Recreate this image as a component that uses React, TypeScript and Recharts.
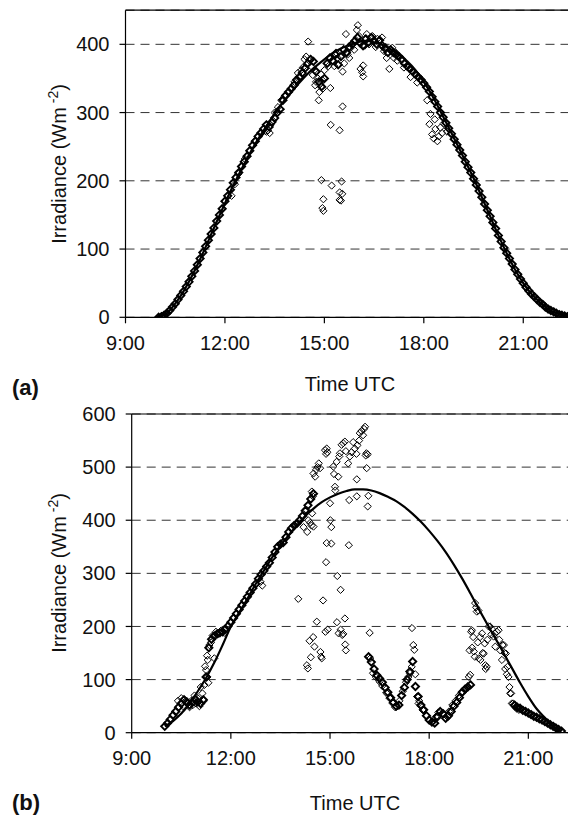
import React from "react";
import { ComposedChart, Line, Scatter, XAxis, YAxis, CartesianGrid, ReferenceLine } from "recharts";

const FONT = '"Liberation Sans", Arial, Helvetica, sans-serif';

// ---- axes ----
const xTicks = [9, 12, 15, 18, 21];
const yTicksA = [0, 100, 200, 300, 400];
const yTicksB = [0, 100, 200, 300, 400, 500, 600];

// ---- sampling of the read-off series ----
const MODEL_START = 10; // 10:00 UTC
const MODEL_STEP_MIN = 15;
const OBS_STEP_MIN = 5;

// (a) clear-sky model curve, 10:00 .. 22:30 every 15 min
const modelA = [
  0, 6, 20, 38, 60, 85, 112, 140, 167, 193, 217, 240, 261, 280, 298, 315, 330, 344, 357, 368,
  378, 387, 394, 399, 403, 405, 403, 399, 393, 385, 375, 362, 345, 325, 302, 278, 254, 229, 204, 176,
  148, 120, 94, 70, 50, 34, 22, 12, 6, 2, 0,
];

// (a) measured, 10:00 .. 22:20 every 5 min
const obsAMain = [
  0, 1, 3, 6, 10, 15, 20, 26, 32, 38, 45, 52,
  60, 68, 77, 86, 95, 104, 113, 122, 131, 141, 150, 159,
  170, 178, 187, 197, 205, 212, 221, 228, 236, 244, 252, 258,
  265, 270, 276, 282, 279, 286, 292, 300, 305, 318, 325, 330,
  335, 340, 348, 352, 358, 365, 372, 378, 375, 360, 345, 338,
  350, 372, 380, 376, 385, 370, 382, 392, 388, 396, 400, 405,
  410, 402, 398, 408, 403, 410, 405, 400, 406, 398, 394, 388,
  392, 388, 385, 382, 378, 372, 368, 364, 360, 356, 352, 348,
  343, 337, 331, 323, 316, 309, 300, 293, 285, 277, 269, 261,
  253, 245, 237, 228, 220, 212, 203, 194, 185, 176, 166, 157,
  148, 139, 130, 120, 111, 102, 94, 86, 78, 70, 63, 56,
  50, 44, 39, 34, 30, 26, 22, 19, 15, 12, 10, 8,
  6, 4, 3, 2, 1,
];

// (a) measured, extra scattered readings [hour, W m-2]
const obsAScatter: [number, number][] = [
  [14.51, 404], [14.45, 382], [14.55, 376], [14.6, 368], [14.65, 355], [14.7, 362], [14.72, 340], [14.75, 345],
  [14.8, 350], [14.83, 318], [14.85, 330], [14.87, 342], [14.9, 356], [14.93, 348], [14.95, 335], [15.0, 362],
  [14.91, 201], [14.97, 173], [14.94, 160], [14.97, 156], [15.18, 336], [15.19, 282], [15.22, 193], [15.12, 368],
  [15.25, 375], [15.3, 368], [15.35, 388], [15.4, 380], [15.46, 274], [15.46, 183], [15.46, 172], [15.5, 171],
  [15.52, 199], [15.54, 181], [15.55, 309], [15.55, 360], [15.6, 372], [15.65, 415], [15.7, 385], [15.75, 380],
  [15.8, 395], [15.85, 400], [15.9, 392], [15.98, 421], [16.01, 428], [16.05, 412], [16.09, 364], [16.14, 359],
  [16.17, 353], [16.17, 369], [16.22, 398], [16.28, 415], [16.35, 400], [16.4, 408], [16.45, 412], [16.55, 396],
  [16.6, 408], [16.65, 405], [16.74, 410], [16.8, 390], [16.85, 396], [16.88, 380], [16.96, 364], [17.05, 395],
  [17.1, 380], [17.15, 388], [17.2, 376], [17.4, 366], [17.6, 352], [17.8, 344], [18.1, 318], [18.17, 283],
  [18.2, 298], [18.25, 268], [18.3, 262], [18.33, 290], [18.35, 276], [18.41, 258], [18.45, 265], [18.5, 278],
  [18.55, 270], [18.6, 284], [18.7, 272], [13.25, 272], [13.3, 274], [13.35, 270], [13.38, 282], [13.45, 288],
  [13.5, 300], [12.2, 178], [12.3, 195], [12.4, 210], [12.6, 232], [12.9, 258], [13.6, 308], [13.7, 318],
  [13.8, 324], [14.1, 345], [14.2, 358], [14.3, 362], [14.35, 366], [14.4, 378],
];

// (b) clear-sky model curve, 10:00 .. 22:00 every 15 min
const modelB = [
  12, 22, 36, 55, 78, 103, 132, 165, 200, 226, 252, 280, 305, 330, 352, 372, 390, 408,
  422, 434, 443, 450, 455, 458, 458, 456, 451, 444, 436, 425, 412, 397, 380, 361, 340, 316,
  290, 262, 233, 205, 178, 150, 122, 94, 68, 45, 28, 12, 3,
];

// (b) measured, morning run 10:00 .. 14:30 every 5 min
const obsB1Start = 10;
const obsB1 = [
  12, 18, 25, 33, 40, 48, 55, 62, 58, 52, 57, 63,
  58, 55, 62, 105, 160, 176, 182, 186, 188, 190, 195, 201,
  208, 216, 224, 232, 240, 248, 256, 264, 272, 280, 290, 298,
  305, 313, 320, 330, 340, 350, 355, 358, 368, 378, 385, 390,
  394, 400, 408, 418, 428, 440, 450,
];
// (b) measured, afternoon run 16:10 .. 19:15 every 5 min
const obsB2Start = 16 + 10 / 60;
const obsB2 = [
  143, 133, 120, 108, 102, 95, 85, 76, 66, 57,
  50, 52, 70, 85, 100, 115, 134, 87, 68, 52, 43, 32,
  24, 20, 18, 30, 40, 36, 27, 32, 40, 50, 57, 66,
  76, 82, 86, 90,
];
// (b) measured, evening run 20:35 .. 22:00 every 5 min
const obsB3Start = 20 + 35 / 60;
const obsB3 = [52, 48, 46, 42, 40, 37, 34, 31, 29, 26, 24, 21, 18, 15, 12, 9, 6, 3];

// (b) measured, extra scattered readings [hour, W m-2]
const obsBScatter: [number, number][] = [
  [10.4, 60], [10.5, 65], [10.55, 50], [10.6, 62], [10.7, 55], [10.75, 48], [10.8, 60], [10.85, 52],
  [10.9, 70], [10.95, 55], [11.0, 65], [11.05, 50], [11.09, 86], [11.14, 74], [11.18, 60], [11.2, 90],
  [11.22, 125], [11.25, 118], [11.28, 145], [11.29, 105], [11.3, 137], [11.32, 94], [11.35, 165], [11.4, 170],
  [11.45, 183], [11.5, 140], [11.55, 190], [11.6, 185], [11.7, 192], [11.8, 188], [12.9, 284], [12.95, 277],
  [14.04, 252], [14.2, 387], [14.3, 419], [14.31, 378], [14.34, 400], [14.4, 395], [14.44, 390], [14.45, 454],
  [14.46, 413], [14.48, 445], [14.5, 388], [14.5, 488], [14.55, 482], [14.58, 495], [14.62, 500], [14.66, 507],
  [14.7, 498], [14.85, 532], [14.88, 525], [14.9, 535], [14.92, 528],
  [15.0, 432], [15.01, 400], [15.04, 387], [15.1, 501], [15.12, 487], [15.15, 463], [15.16, 456], [15.2, 510],
  [15.25, 482], [15.28, 520], [15.3, 526], [15.35, 542], [15.4, 545], [15.45, 548], [15.48, 530], [15.55, 507],
  [15.58, 438], [15.6, 520], [15.65, 528], [15.7, 547], [15.75, 535], [15.8, 525], [15.81, 477], [15.81, 445],
  [15.83, 541], [15.88, 550], [15.9, 564], [15.95, 568], [16.0, 560], [16.03, 572], [16.06, 576], [16.08, 522],
  [16.1, 526], [16.11, 498], [16.14, 524], [16.16, 446], [16.14, 426],
  [14.3, 127], [14.33, 121], [14.38, 173], [14.42, 142], [14.49, 180], [14.53, 162], [14.6, 209], [14.71, 152],
  [14.73, 143], [14.75, 140], [14.79, 249], [14.86, 190], [14.88, 321], [14.9, 357], [14.93, 194], [15.04, 356],
  [15.21, 208], [15.22, 295], [15.26, 187], [15.32, 194], [15.32, 269], [15.37, 184], [15.4, 186], [15.45, 215],
  [15.46, 166], [15.48, 155], [15.57, 353], [16.2, 188],
  [16.22, 140], [16.3, 112], [16.4, 104], [16.5, 96], [16.58, 88], [16.7, 75], [16.8, 65], [16.9, 55],
  [16.97, 48], [17.02, 49], [17.1, 60], [17.2, 78], [17.3, 95], [17.37, 105], [17.42, 112], [17.47, 124],
  [17.5, 134], [17.48, 197], [17.52, 165], [17.55, 156], [17.58, 110], [17.6, 87], [17.64, 68], [17.68, 55],
  [17.7, 60], [17.75, 50], [17.8, 43], [18.08, 20], [18.2, 30], [18.28, 38], [18.4, 36], [18.5, 27],
  [18.55, 30], [18.6, 40], [18.7, 52], [18.8, 60], [18.9, 70], [19.0, 78], [19.1, 82],
  [19.2, 105], [19.22, 155], [19.24, 109], [19.27, 190], [19.29, 193], [19.3, 160], [19.33, 180], [19.35, 153],
  [19.38, 143], [19.39, 244], [19.42, 236], [19.44, 228], [19.47, 170], [19.49, 230], [19.5, 140], [19.54, 180],
  [19.55, 137], [19.6, 187], [19.62, 150], [19.65, 149], [19.68, 168], [19.7, 127], [19.71, 120], [19.74, 124],
  [19.76, 175], [19.8, 200], [19.84, 200], [19.88, 185], [19.9, 195], [19.95, 181], [19.99, 187], [20.0, 162],
  [20.05, 190], [20.1, 193], [20.12, 175], [20.15, 155], [20.2, 137], [20.22, 165], [20.26, 165], [20.28, 150],
  [20.3, 120], [20.32, 149], [20.35, 110], [20.37, 124], [20.4, 105], [20.43, 86], [20.45, 74], [20.48, 74],
  [20.5, 55], [20.54, 55], [20.58, 50], [20.62, 47], [20.66, 45], [20.72, 43],
];

type Pt = { t: number; v: number };
function sampled(start: number, stepMin: number, values: number[]): Pt[] {
  return values.map((v, i) => ({ t: start + (i * stepMin) / 60, v }));
}
function pairs(p: [number, number][]): Pt[] {
  return p.map(([t, v]) => ({ t, v }));
}

const modelAData = sampled(MODEL_START, MODEL_STEP_MIN, modelA);
const obsABand = sampled(10, OBS_STEP_MIN, obsAMain);
const obsAExtra = pairs(obsAScatter);
const modelBData = sampled(MODEL_START, MODEL_STEP_MIN, modelB);
const obsBBand = [
  ...sampled(obsB1Start, OBS_STEP_MIN, obsB1),
  ...sampled(obsB2Start, OBS_STEP_MIN, obsB2),
  ...sampled(obsB3Start, OBS_STEP_MIN, obsB3),
];
const obsBExtra = pairs(obsBScatter);

const makeDiamond = (sw: number) => (props: any) => {
  const { cx, cy } = props;
  if (cx == null || cy == null || isNaN(cx) || isNaN(cy)) return <g />;
  const r = 3.6;
  return (
    <path
      d={`M${cx},${cy - r}L${cx + r},${cy}L${cx},${cy + r}L${cx - r},${cy}Z`}
      fill="none"
      stroke="#000"
      strokeWidth={sw}
    />
  );
};
const BandDiamond = makeDiamond(1.9);
const LooseDiamond = makeDiamond(1);

type PanelProps = {
  top: number;
  height: number;
  plotTop: number;
  plotBottom: number;
  plotLeft: number;
  xMax: number;
  yMax: number;
  yTicks: number[];
  model: Pt[];
  band: Pt[];
  extra: Pt[];
};

function Panel({ top, height, plotTop, plotBottom, plotLeft, xMax, yMax, yTicks, model, band, extra }: PanelProps) {
  const xAxisH = 40;
  return (
    <div style={{ position: "absolute", left: 0, top, width: 568, height }}>
      <ComposedChart
        width={568}
        height={height}
        margin={{ top: plotTop, right: 0, bottom: height - plotBottom - xAxisH, left: 0 }}
      >
        <CartesianGrid horizontal vertical={false} stroke="#333" strokeDasharray="9 6" strokeWidth={1} />
        <XAxis
          type="number"
          dataKey="t"
          domain={[9, xMax]}
          ticks={xTicks}
          allowDataOverflow
          tickFormatter={(h: number) => `${h}:00`}
          height={xAxisH}
          tickSize={6}
          tickMargin={12}
          axisLine={{ stroke: "#000", strokeWidth: 1.2 }}
          tickLine={{ stroke: "#000", strokeWidth: 1.2 }}
          tick={{ fill: "#111", fontSize: 20, fontFamily: FONT }}
        />
        <YAxis
          type="number"
          dataKey="v"
          domain={[0, yMax]}
          ticks={yTicks}
          allowDataOverflow
          width={plotLeft}
          tickSize={6}
          tickMargin={10}
          axisLine={{ stroke: "#000", strokeWidth: 1.2 }}
          tickLine={{ stroke: "#000", strokeWidth: 1.2 }}
          tick={{ fill: "#111", fontSize: 20, fontFamily: FONT }}
        />
        <ReferenceLine y={yMax} stroke="#000" strokeWidth={1.2} />
        <Scatter data={band} dataKey="v" shape={(p: any) => <BandDiamond {...p} />} isAnimationActive={false} />
        <Scatter data={extra} dataKey="v" shape={(p: any) => <LooseDiamond {...p} />} isAnimationActive={false} />
        <Line
          data={model}
          dataKey="v"
          type="monotone"
          stroke="#000"
          strokeWidth={2.2}
          dot={false}
          activeDot={false}
          isAnimationActive={false}
        />
      </ComposedChart>
    </div>
  );
}

function YTitle({ x, y }: { x: number; y: number }) {
  return (
    <text
      x={x}
      y={y}
      transform={`rotate(-90 ${x} ${y})`}
      textAnchor="middle"
      fontFamily={FONT}
      fontSize={20}
      fill="#111"
    >
      Irradiance (Wm
      <tspan fontSize={14} dy={-8}>
        {" "}-2
      </tspan>
      <tspan dy={8}>)</tspan>
    </text>
  );
}

export default function App() {
  return (
    <div
      style={{
        position: "fixed",
        left: 0,
        top: 0,
        width: 568,
        height: 817,
        overflow: "hidden",
        background: "#fff",
        fontFamily: FONT,
      }}
    >
      <Panel
        top={0}
        height={400}
        plotTop={10.2}
        plotBottom={317.3}
        plotLeft={125.5}
        xMax={22.35}
        yMax={450}
        yTicks={yTicksA}
        model={modelAData}
        band={obsABand}
        extra={obsAExtra}
      />
      <Panel
        top={400}
        height={417}
        plotTop={14}
        plotBottom={332.7}
        plotLeft={131.7}
        xMax={22.2}
        yMax={600}
        yTicks={yTicksB}
        model={modelBData}
        band={obsBBand}
        extra={obsBExtra}
      />
      <svg
        width={568}
        height={817}
        style={{ position: "absolute", left: 0, top: 0, pointerEvents: "none" }}
      >
        <YTitle x={66} y={164} />
        <YTitle x={66} y={573} />
        <text x={350} y={391} textAnchor="middle" fontFamily={FONT} fontSize={20} fill="#111">
          Time UTC
        </text>
        <text x={355} y={810} textAnchor="middle" fontFamily={FONT} fontSize={20} fill="#111">
          Time UTC
        </text>
        <text x={12} y={395} fontFamily={FONT} fontSize={22} fontWeight="bold" fill="#111">
          (a)
        </text>
        <text x={12} y={810} fontFamily={FONT} fontSize={22} fontWeight="bold" fill="#111">
          (b)
        </text>
      </svg>
    </div>
  );
}
